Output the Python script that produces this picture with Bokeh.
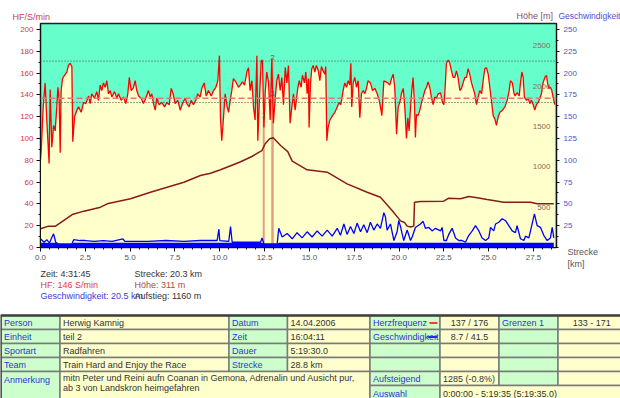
import numpy as np
from bokeh.plotting import figure
from bokeh.models import Range1d, LinearAxis, FixedTicker, NumeralTickFormatter, Span
from bokeh.embed import file_html
from bokeh.resources import INLINE
from bokeh.core.properties import value

FONT = "Liberation Sans"

# ---------------- data ----------------
hf_km = [
    0.00, 0.04, 0.15, 0.26, 0.35, 0.48, 0.54, 0.63, 0.73, 0.82,
    0.91, 0.97, 1.04, 1.10, 1.15, 1.23, 1.34, 1.47, 1.56, 1.65,
    1.75, 1.80, 1.90, 2.03, 2.12, 2.27, 2.40, 2.53, 2.68, 2.77,
    2.86, 3.01, 3.14, 3.23, 3.33, 3.42, 3.51, 3.61, 3.70, 3.79,
    3.89, 3.98, 4.13, 4.26, 4.35, 4.50, 4.63, 4.76, 4.87, 4.95,
    5.06, 5.19, 5.28, 5.37, 5.47, 5.61, 5.74, 5.87, 6.02, 6.12,
    6.21, 6.30, 6.40, 6.49, 6.62, 6.77, 6.92, 7.05, 7.18, 7.29,
    7.40, 7.51, 7.66, 7.79, 7.92, 8.07, 8.16, 8.29, 8.40, 8.53,
    8.66, 8.77, 8.90, 9.00, 9.13, 9.24, 9.37, 9.52, 9.65, 9.78,
    9.89, 9.98, 10.04, 10.11, 10.21, 10.30, 10.41, 10.49, 10.58, 10.67,
    10.76, 10.89, 11.04, 11.14, 11.27, 11.38, 11.51, 11.60, 11.69, 11.79,
    11.88, 11.97, 12.07, 12.12, 12.20, 12.31, 12.38, 12.46, 12.53, 12.62,
    12.72, 12.81, 12.90, 12.99, 13.09, 13.18, 13.27, 13.37, 13.46, 13.55,
    13.65, 13.74, 13.83, 13.92, 14.02, 14.11, 14.20, 14.35, 14.43, 14.54,
    14.61, 14.72, 14.80, 14.87, 14.95, 14.98, 15.06, 15.13, 15.21, 15.30,
    15.39, 15.50, 15.58, 15.67, 15.76, 15.86, 15.91, 15.97, 16.04, 16.14,
    16.29, 16.42, 16.55, 16.66, 16.75, 16.88, 16.97, 17.07, 17.16, 17.25,
    17.31, 17.36, 17.44, 17.53, 17.62, 17.72, 17.81, 17.90, 18.00, 18.09,
    18.18, 18.27, 18.40, 18.52, 18.65, 18.78, 18.89, 18.96, 19.04, 19.15,
    19.26, 19.37, 19.48, 19.58, 19.67, 19.76, 19.86, 19.95, 20.04, 20.13,
    20.23, 20.32, 20.41, 20.49, 20.56, 20.64, 20.71, 20.78, 20.86, 20.91,
    20.97, 21.06, 21.16, 21.25, 21.34, 21.44, 21.53, 21.62, 21.71, 21.81,
    21.90, 21.99, 22.09, 22.18, 22.31, 22.42, 22.50, 22.57, 22.64, 22.74,
    22.83, 22.92, 23.02, 23.11, 23.20, 23.29, 23.39, 23.48, 23.57, 23.67,
    23.76, 23.85, 23.94, 24.04, 24.13, 24.22, 24.32, 24.41, 24.50, 24.60,
    24.69, 24.78, 24.87, 24.97, 25.06, 25.15, 25.25, 25.34, 25.43, 25.53,
    25.62, 25.77, 25.90, 26.03, 26.14, 26.21, 26.32, 26.40, 26.47, 26.58,
    26.70, 26.77, 26.85, 26.92, 26.99, 27.11, 27.20, 27.29, 27.38, 27.48,
    27.57, 27.66, 27.76, 27.85, 27.94, 28.03, 28.13, 28.22, 28.28, 28.35,
    28.44, 28.52, 28.59, 28.69,
]
hf = [
    80, 89, 129, 151, 117, 77, 145, 92, 112, 107,
    129, 147, 135, 87, 144, 155, 158, 161, 167, 169,
    166, 97, 120, 126, 129, 124, 133, 132, 139, 132,
    141, 137, 143, 135, 149, 144, 151, 147, 153, 141,
    144, 138, 143, 137, 141, 135, 138, 132, 141, 156,
    144, 147, 153, 144, 139, 137, 132, 137, 144, 138,
    141, 132, 126, 137, 131, 133, 129, 133, 131, 146,
    141, 132, 135, 126, 132, 137, 132, 129, 135, 131,
    135, 141, 138, 146, 151, 139, 144, 139, 144, 147,
    153, 176, 118, 98, 120, 141, 129, 124, 135, 144,
    155, 152, 147, 149, 152, 149, 161, 165, 144, 153,
    129, 117, 176, 98, 132, 171, 172, 110, 141, 161,
    151, 117, 172, 114, 137, 153, 159, 144, 156, 131,
    165, 151, 167, 114, 129, 141, 126, 146, 153, 147,
    158, 151, 161, 141, 155, 110, 151, 164, 167, 161,
    167, 162, 153, 166, 162, 159, 166, 98, 110, 117,
    121, 124, 129, 133, 131, 144, 151, 147, 153, 149,
    169, 129, 151, 156, 147, 153, 119, 141, 144, 141,
    146, 153, 151, 144, 146, 141, 135, 129, 121, 153,
    152, 151, 149, 155, 159, 147, 104, 129, 133, 141,
    146, 129, 100, 119, 107, 129, 144, 156, 132, 101,
    122, 121, 126, 133, 138, 144, 147, 152, 147, 137,
    131, 138, 137, 141, 142, 133, 131, 147, 169, 172,
    169, 162, 156, 156, 162, 156, 144, 146, 151, 156,
    156, 164, 159, 151, 146, 141, 131, 138, 144, 141,
    153, 164, 165, 159, 147, 135, 121, 118, 112, 120,
    124, 126, 129, 135, 144, 153, 151, 142, 139, 142,
    139, 151, 161, 156, 138, 135, 137, 132, 135, 131,
    126, 131, 133, 137, 141, 151, 156, 158, 151, 146,
    147, 144, 138, 131,
]

elev_km = [0.0, 0.45, 0.84, 1.77, 2.42, 3.35, 3.72, 5.02, 6.13, 8.0,
           8.92, 9.48, 10.04, 11.1, 11.79, 12.35, 12.53, 12.78, 12.98, 13.39,
           13.79, 14.04, 14.4, 14.87, 15.99, 17.1, 18.22, 18.96, 19.61, 20.08,
           20.3, 20.45, 20.64, 20.82, 20.86, 21.19, 22.49, 22.77, 23.42, 23.89,
           24.36, 24.91, 25.84, 27.33, 27.7, 28.63]
elev = [232, 265, 265, 409, 451, 500, 542, 604, 686, 810,
        893, 922, 964, 1058, 1129, 1203, 1287, 1349, 1361, 1265,
        1190, 1071, 1025, 964, 934, 790, 686, 624, 459, 330,
        311, 265, 255, 265, 562, 571, 575, 612, 604, 633,
        617, 596, 562, 562, 542, 542]

spd_km = [0.0, 0.1, 0.2, 0.35, 0.5, 0.6, 0.73, 0.85, 1.0, 1.4,
          1.75, 1.85, 2.2, 2.5, 3.0, 3.5, 4.0, 4.6, 4.7, 5.5,
          6.0, 7.0, 8.0, 8.92, 9.85, 9.95, 10.0, 10.5, 10.6, 10.69,
          12.27, 12.36, 12.46, 13.20, 13.29, 13.48, 13.76, 14.04, 14.31, 14.59,
          14.87, 15.15, 15.43, 15.71, 15.99, 16.27, 16.55, 16.73, 16.92, 17.10,
          17.29, 17.48, 17.66, 17.85, 18.03, 18.22, 18.40, 18.59, 18.78, 18.96,
          19.15, 19.24, 19.33, 19.52, 19.71, 19.89, 19.98, 20.08, 20.26, 20.45,
          20.64, 20.73, 20.91, 21.19, 21.34, 21.47, 21.66, 21.84, 22.03, 22.31,
          22.40, 22.50, 22.64, 22.77, 22.96, 23.15, 23.33, 23.52, 23.70, 23.89,
          24.08, 24.26, 24.45, 24.63, 24.82, 25.00, 25.10, 25.28, 25.38, 25.56,
          25.75, 25.93, 26.12, 26.31, 26.49, 26.58, 26.77, 26.96, 27.05, 27.24,
          27.42, 27.55, 27.70, 27.89, 28.07, 28.26, 28.44, 28.54, 28.63]
spd = [10, 8, 6, 9, 5, 10, 15.7, 6, 4, 4,
       4, 9, 8, 8, 7, 8, 7, 10, 7, 7,
       7, 8, 7, 8, 8, 21, 8, 7, 24, 6,
       6, 11, 4, 4, 22, 12, 16, 10, 17, 11,
       18, 12, 19, 13, 20, 13, 22, 14, 27, 15,
       24, 16, 28, 18, 26, 17, 29, 20, 27, 22,
       40, 35, 20, 27, 8, 18, 31, 24, 8, 20,
       8, 12, 23, 27, 30, 22, 23, 19, 22, 19,
       23, 8, 8, 15, 22, 11, 8, 8, 6, 14,
       19, 25, 19, 11, 8, 11, 23, 19, 27, 29,
       33, 31, 25, 19, 17, 25, 10, 8, 13, 11,
       27, 38.6, 25, 23, 14, 8, 11, 23, 11]
spd_band = 5.5  # thick band of near-zero speed samples

hf_zone = [133, 171]
hf_avg = 137
lap_km = [12.45, 12.94, 12.94]
lap_hf = [121, 174, 141]
lap_labels = ["1", "2", "3"]

hf_ticks = list(range(0, 201, 20))
spd_ticks = list(range(25, 251, 25))
elev_ticks = [500, 1000, 1500, 2000, 2500]
km_ticks = [i * 2.5 for i in range(12)]

info_left = [("Zeit: 4:31:45", "#333333"), ("HF: 146 S/min", "#E03C3C"),
             ("Geschwindigkeit: 20.5 km", "#3C3CD2")]
info_right = [("Strecke: 20.3 km", "#333333"), ("Höhe: 311 m", "#B04848"),
              ("Aufstieg: 1160 m", "#333333")]

t_labels_a = ["Person", "Einheit", "Sportart", "Team"]
t_values_a = ["Herwig Kamnig", "teil 2", "Radfahren", "Train Hard and Enjoy the Race"]
t_labels_b = ["Datum", "Zeit", "Dauer", "Strecke"]
t_values_b = ["14.04.2006", "16:04:11", "5:19:30.0", "28.8 km"]
note_label = "Anmerkung"
note_lines = ["mitn Peter und Reini aufn Coanan in Gemona, Adrenalin und Ausicht pur,",
              "ab 3 von Landskron heimgefahren"]
stat_labels = ["Herzfrequenz", "Geschwindigkeit", "", "", "Aufsteigend"]
stat_values = ["137 / 176", "8.7 / 41.5", "", "", "1285 (-0.8%)"]
limit_labels = ["Grenzen 1", "", "", "", ""]
limit_values = ["133 - 171", "", "", "", ""]
sel_label = "Auswahl"
sel_value = "0:00:00 - 5:19:35 (5:19:35.0)"

ABS = {"position": "absolute", "left": "0px", "top": "0px"}

# ---------------- background page: free texts + table ----------------
bg = figure(width=620, height=398, x_range=Range1d(0, 620), y_range=Range1d(398, 0),
            output_backend="svg", toolbar_location=None, min_border=0,
            x_axis_location=None, y_axis_location=None, styles=ABS)
bg.grid.visible = False
bg.outline_line_color = None
bg.background_fill_color = "white"
bg.border_fill_color = "white"

tx, ty, tt, ta, tc, ts = [], [], [], [], [], []
def put(text, x, y, color, align="left", size="9px"):
    tx.append(x); ty.append(y); tt.append(text); ta.append(align); tc.append(color); ts.append(size)

put("HF/S/min", 12, 16, "#C84050")
put("Höhe [m]", 516, 15, "#905068")
put("Geschwindigkeit", 558, 15, "#5050C8", size="8.5px")
put("Strecke", 567, 251, "#555555")
put("[km]", 567, 263, "#555555")
for i, (t, c) in enumerate(info_left):
    put(t, 40, 273 + 11 * i, c)
for i, (t, c) in enumerate(info_right):
    put(t, 134, 273 + 11 * i, c)

COLS = [0.5, 59.5, 228.5, 287, 369.5, 439.5, 498.5, 557.5, 625]
ROWS = [315, 329, 343, 357, 371, 385, 401]
GREEN = "#CCFFCC"
YEL = "#FFFFCC"
BLUE_T = "#3333CC"
GRAY_T = "#333333"

cells = []   # (c0, c1, r0, r1, fill, text, align, color)
for i in range(4):
    cells.append((0, 1, i, i + 1, GREEN, t_labels_a[i], "left", BLUE_T))
    cells.append((1, 2, i, i + 1, YEL, t_values_a[i], "left", GRAY_T))
    cells.append((2, 3, i, i + 1, GREEN, t_labels_b[i], "left", BLUE_T))
    cells.append((3, 4, i, i + 1, YEL, t_values_b[i], "left", GRAY_T))
cells.append((0, 1, 4, 6, GREEN, "", "left", BLUE_T))
cells.append((1, 4, 4, 6, YEL, "", "left", GRAY_T))
for i in range(5):
    cells.append((4, 5, i, i + 1, GREEN, stat_labels[i], "left", BLUE_T))
    cells.append((5, 6, i, i + 1, YEL, stat_values[i], "center" if i < 2 else "left", GRAY_T))
    cells.append((6, 7, i, i + 1, GREEN, limit_labels[i], "left", BLUE_T))
    cells.append((7, 8, i, i + 1, YEL, limit_values[i], "center", GRAY_T))
cells.append((4, 5, 5, 6, GREEN, sel_label, "left", BLUE_T))
cells.append((5, 8, 5, 6, YEL, sel_value, "left", GRAY_T))

bg.quad(left=[COLS[c[0]] for c in cells], right=[COLS[c[1]] for c in cells],
        top=[ROWS[c[2]] for c in cells], bottom=[ROWS[c[3]] for c in cells],
        fill_color=[c[4] for c in cells], line_color="#7a7a7a", line_width=1.5)
bg.segment(x0=[0], y0=[ROWS[0]], x1=[620], y1=[ROWS[0]], line_color="#404040", line_width=2.5)
bg.segment(x0=[0.5], y0=[ROWS[0]], x1=[0.5], y1=[398], line_color="#404040", line_width=1.5)

for c in cells:
    if not c[5]:
        continue
    x0, x1 = COLS[c[0]], COLS[c[1]]
    put(c[5], (x0 + x1) / 2 if c[6] == "center" else x0 + 3,
        (ROWS[c[2]] + ROWS[c[2] + 1]) / 2, c[7], c[6])
put(note_label, COLS[0] + 3, 379, BLUE_T)
for j, line in enumerate(note_lines):
    put(line, COLS[1] + 3, 377 + 10.5 * j, GRAY_T)

bg.text(x=tx, y=ty, text=tt, text_align=ta, text_color=tc, text_font_size=ts,
        text_baseline="middle", text_font=value(FONT))

# legend marks next to Herzfrequenz / Geschwindigkeit
bg.segment(x0=[429, 427], y0=[322.5, 336.5], x1=[437, 437], y1=[322.5, 336.5],
           line_color=["#FF0000", "#0000FF"], line_width=1.5)

# ---------------- chart (overlaid, transparent border) ----------------
X_END = 28.78
HF_TOP = 205.5
SPD_TOP = HF_TOP * 1.25
ELE_TOP = 2779

p = figure(width=620, height=300, x_range=Range1d(0, X_END), y_range=Range1d(0, HF_TOP),
           output_backend="svg", toolbar_location=None,
           min_border_left=40, min_border_right=64, min_border_top=23, min_border_bottom=53,
           styles=ABS)
p.extra_y_ranges = {"speed": Range1d(0, SPD_TOP), "height": Range1d(0, ELE_TOP)}
p.background_fill_color = "#66FFCC"
p.border_fill_color = None
p.outline_line_color = "#222222"
p.outline_line_width = 1.5
p.grid.visible = False

p.varea(x=hf_km, y1=0, y2=hf, fill_color="#FFFFCC")

for z in hf_zone:
    p.add_layout(Span(location=z, dimension="width", line_color="#444444",
                      line_dash="1 2", line_width=1))
p.add_layout(Span(location=hf_avg, dimension="width", line_color="#E07878",
                  line_dash="6 3", line_width=1.5))

p.segment(x0=lap_km, y0=[0] * len(lap_km), x1=lap_km, y1=lap_hf,
          line_color="#E0A080", line_width=2)

p.line(elev_km, elev, y_range_name="height", line_color="#8B1A1A", line_width=1.5)

p.varea(x=spd_km, y1=0, y2=list(np.minimum(spd, spd_band)), y_range_name="speed",
        fill_color="#0000FF")
p.line(spd_km, spd, y_range_name="speed", line_color="#0000FF", line_width=1.3)

p.line(hf_km, hf, line_color="#FF0000", line_width=1.3)

p.text(x=lap_km, y=lap_hf, text=lap_labels, text_font=value(FONT), text_font_size="8px",
       text_color="#555555", text_align="center", text_baseline="middle")

p.text(x=[X_END] * len(elev_ticks), y=elev_ticks, text=[str(v) for v in elev_ticks],
       y_range_name="height", x_offset=-6, text_align="right", text_baseline="middle",
       text_font=value(FONT), text_font_size="8px", text_color="#8B6A5A")

xa = p.xaxis[0]
xa.ticker = FixedTicker(ticks=km_ticks, minor_ticks=[i * 0.5 for i in range(58)])
xa.formatter = NumeralTickFormatter(format="0.0")
ya = p.yaxis[0]
ya.ticker = FixedTicker(ticks=hf_ticks, minor_ticks=list(range(0, 206, 10)))

sa = LinearAxis(y_range_name="speed",
                ticker=FixedTicker(ticks=spd_ticks, minor_ticks=[i * 12.5 for i in range(21)]))
p.add_layout(sa, "right")

for ax, col in ((xa, "#555555"), (ya, "#D03848"), (sa, "#5050D0")):
    ax.axis_line_color = "#111111"
    ax.major_tick_line_color = "#111111"
    ax.minor_tick_line_color = "#111111"
    ax.major_tick_in = 0
    ax.minor_tick_in = 0
    ax.major_tick_out = 4
    ax.minor_tick_out = 2
    ax.major_label_text_font = FONT
    ax.major_label_text_font_size = "8px"
    ax.major_label_text_color = col
    ax.major_label_standoff = 3
sa.major_tick_out = 3
sa.major_label_standoff = 4

open("out.html", "w").write(file_html([bg, p], INLINE))
